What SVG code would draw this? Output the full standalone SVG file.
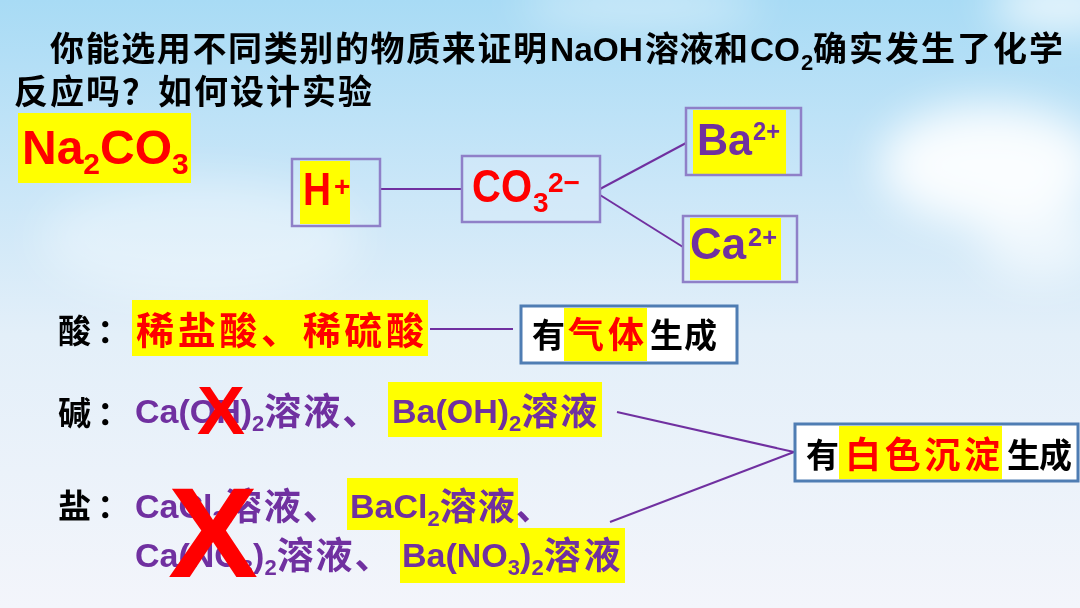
<svg xmlns="http://www.w3.org/2000/svg" width="1080" height="608" viewBox="0 0 1080 608">
<defs>
<linearGradient id="sky" x1="0" y1="0" x2="0" y2="1">
<stop offset="0" stop-color="#a8dbf5"/>
<stop offset="0.3" stop-color="#c9e6f8"/>
<stop offset="0.55" stop-color="#e3eff9"/>
<stop offset="1" stop-color="#f3f5fb"/>
</linearGradient>
<filter id="blur" x="-50%" y="-50%" width="200%" height="200%"><feGaussianBlur stdDeviation="22"/></filter>
<style>
.cjk{font-family:"Noto Sans CJK SC","Noto Sans CJK TC",sans-serif;font-weight:700}
.lat{font-family:"Liberation Sans",Arial,sans-serif;font-weight:700}
.blk{fill:#000}
.red{fill:#ff0000}
.pur{fill:#7030a0}
.hl{fill:#ffff00}
.ion{fill:none;stroke:#8f80c8;stroke-width:2.5}
.res{fill:#ffffff;stroke:#4f7db3;stroke-width:3}
.con{stroke:#7030a0;stroke-width:2;fill:none}
.cj{font-family:"Noto Sans CJK SC","Noto Sans CJK TC",sans-serif;font-size:37px;letter-spacing:2px}
.sb{font-size:22px}
</style>
</defs>
<rect width="1080" height="608" fill="url(#sky)"/>
<g filter="url(#blur)" fill="#ffffff">
<ellipse cx="990" cy="165" rx="110" ry="60" opacity="0.9"/>
<ellipse cx="1060" cy="5" rx="70" ry="25" opacity="0.8"/>
<ellipse cx="640" cy="5" rx="120" ry="18" opacity="0.5"/>
<ellipse cx="200" cy="240" rx="160" ry="60" opacity="0.35"/>
<ellipse cx="1040" cy="240" rx="60" ry="40" opacity="0.6"/>
</g>

<g id="title">
<text class="cjk blk" font-size="34" x="50" y="61" textLength="497" lengthAdjust="spacing">你能选用不同类别的物质来证明</text>
<text class="lat blk" font-size="34" x="550" y="61" textLength="93" lengthAdjust="spacingAndGlyphs">NaOH</text>
<text class="cjk blk" font-size="34" x="645" y="61" textLength="103" lengthAdjust="spacing">溶液和</text>
<text class="lat blk" font-size="34" x="750" y="61" textLength="50" lengthAdjust="spacingAndGlyphs">CO</text>
<text class="lat blk" font-size="22" x="801" y="70">2</text>
<text class="cjk blk" font-size="34" x="813" y="61" textLength="250" lengthAdjust="spacing">确实发生了化学</text>
<text class="cjk blk" font-size="34" x="14" y="104" textLength="358" lengthAdjust="spacing">反应吗？如何设计实验</text>
</g>

<g id="node-na2co3">
<rect class="hl" x="18" y="113" width="173" height="70"/>
<text class="lat red" font-size="48" x="22" y="164">Na<tspan font-size="30" dy="10">2</tspan><tspan dy="-10">CO</tspan><tspan font-size="30" dy="10">3</tspan></text>
</g>

<g id="connectors">
<line class="con" x1="380" y1="189" x2="462" y2="189"/>
<line class="con" x1="600" y1="189" x2="686" y2="143"/>
<line class="con" x1="600" y1="195" x2="683" y2="247"/>
<line class="con" x1="430" y1="329" x2="513" y2="329"/>
<line class="con" x1="617" y1="412" x2="794" y2="452"/>
<line class="con" x1="610" y1="522" x2="794" y2="452"/>
</g>

<g id="node-h">
<rect class="hl" x="300" y="161" width="50" height="63"/>
<rect class="ion" x="292" y="159" width="88" height="67"/>
<text class="lat red" font-size="46" x="303" y="205" textLength="28" lengthAdjust="spacingAndGlyphs">H</text>
<text class="lat red" font-size="28" x="334" y="196">+</text>
</g>

<g id="node-co3">
<rect class="ion" x="462" y="156" width="138" height="66" style="fill:#d9ecf9;fill-opacity:0.5"/>
<text class="lat red" font-size="46" x="472" y="202" textLength="60" lengthAdjust="spacingAndGlyphs">CO</text>
<text class="lat red" font-size="28" x="533" y="212">3</text>
<text class="lat red" font-size="28" x="548" y="192" textLength="32" lengthAdjust="spacingAndGlyphs">2−</text>
</g>

<g id="node-ba">
<rect class="hl" x="693" y="110" width="93" height="64"/>
<rect class="ion" x="686" y="108" width="115" height="67"/>
<text class="lat pur" font-size="44" x="697" y="155" textLength="55" lengthAdjust="spacingAndGlyphs">Ba</text>
<text class="lat pur" font-size="26" x="753" y="140" textLength="27" lengthAdjust="spacingAndGlyphs">2+</text>
</g>

<g id="node-ca">
<rect class="hl" x="690" y="218" width="91" height="62"/>
<rect class="ion" x="683" y="216" width="114" height="66"/>
<text class="lat pur" font-size="44" x="690" y="259" textLength="56" lengthAdjust="spacingAndGlyphs">Ca</text>
<text class="lat pur" font-size="26" x="748" y="246" textLength="29" lengthAdjust="spacingAndGlyphs">2+</text>
</g>

<g id="row-acid">
<text class="cjk blk" font-size="33" x="58" y="343">酸<tspan x="97">：</tspan></text>
<rect class="hl" x="132" y="300" width="296" height="56"/>
<text class="cjk red" font-size="38" x="136" y="344" textLength="288" lengthAdjust="spacing">稀盐酸、稀硫酸</text>
</g>

<g id="node-gas">
<rect class="res" x="521" y="306" width="216" height="57"/>
<rect class="hl" x="564" y="308" width="83" height="53"/>
<text class="cjk blk" font-size="33" x="532" y="347">有</text>
<text class="cjk red" font-size="36" x="568" y="348" textLength="76" lengthAdjust="spacing">气体</text>
<text class="cjk blk" font-size="33" x="650" y="347" textLength="67" lengthAdjust="spacing">生成</text>
</g>

<g id="row-base">
<text class="cjk blk" font-size="33" x="58" y="425">碱<tspan x="97">：</tspan></text>
<text class="lat pur" font-size="34" x="135" y="423">Ca(OH)<tspan class="sb" dy="8">2</tspan><tspan class="cj" dy="-6">溶液、</tspan></text>
<rect class="hl" x="388" y="382" width="214" height="55"/>
<text class="lat pur" font-size="34" x="392" y="423">Ba(OH)<tspan class="sb" dy="8">2</tspan><tspan class="cj" dy="-6">溶液</tspan></text>
<text class="lat red" font-size="68" x="197" y="434" textLength="48" lengthAdjust="spacingAndGlyphs">X</text>
</g>

<g id="node-precip">
<rect class="res" x="795" y="424" width="283" height="57"/>
<rect class="hl" x="839" y="426" width="163" height="53"/>
<text class="cjk blk" font-size="33" x="806" y="467">有</text>
<text class="cjk red" font-size="36" x="845" y="468" textLength="155" lengthAdjust="spacing">白色沉淀</text>
<text class="cjk blk" font-size="33" x="1007" y="467" textLength="65" lengthAdjust="spacing">生成</text>
</g>

<g id="row-salt">
<text class="cjk blk" font-size="33" x="58" y="518">盐<tspan x="97">：</tspan></text>
<text class="lat pur" font-size="34" x="135" y="518">CaCl<tspan class="sb" dy="8">2</tspan><tspan class="cj" dy="-6">溶液、</tspan></text>
<rect class="hl" x="347" y="478" width="171" height="52"/>
<text class="lat pur" font-size="34" x="350" y="518">BaCl<tspan class="sb" dy="8">2</tspan><tspan class="cj" dy="-6" style="letter-spacing:1px">溶液、</tspan></text>
<text class="lat pur" font-size="34" x="135" y="567">Ca(NO<tspan class="sb" dy="8">3</tspan><tspan dy="-8">)</tspan><tspan class="sb" dy="8">2</tspan><tspan class="cj" dy="-6">溶液、</tspan></text>
<rect class="hl" x="400" y="528" width="225" height="55"/>
<text class="lat pur" font-size="34" x="402" y="567">Ba(NO<tspan class="sb" dy="8">3</tspan><tspan dy="-8">)</tspan><tspan class="sb" dy="8">2</tspan><tspan class="cj" dy="-6" style="letter-spacing:3px">溶液</tspan></text>
<text class="lat red" font-size="128" x="168" y="577" textLength="90" lengthAdjust="spacingAndGlyphs">X</text>
</g>
</svg>
